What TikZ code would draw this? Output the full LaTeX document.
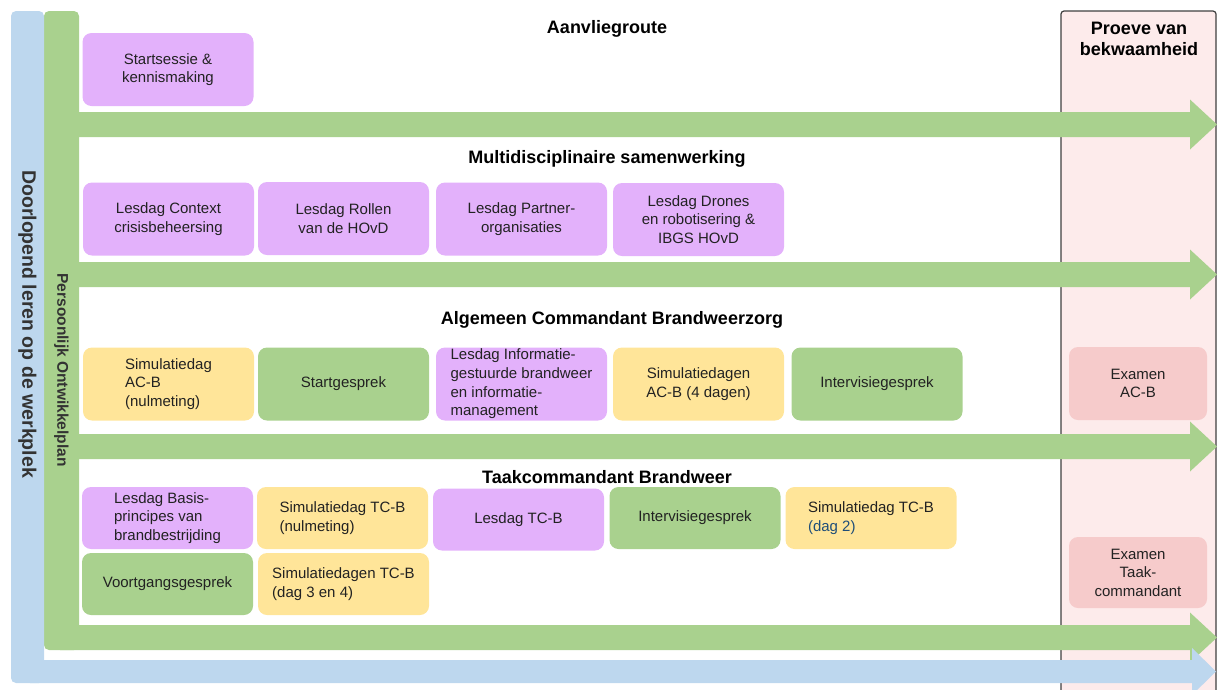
\documentclass[tikz,border=0pt]{standalone}
\usepackage{fontspec}
\setmainfont{Liberation Sans}
\usepackage{tikz}
\usetikzlibrary{positioning,calc}

\definecolor{leerBlauw}{HTML}{BDD7EE}
\definecolor{poGroen}{HTML}{A9D18E}
\definecolor{lesPaars}{HTML}{E3B1FB}
\definecolor{simGeel}{HTML}{FFE599}
\definecolor{examRood}{HTML}{F6CBCB}
\definecolor{proeveRoze}{HTML}{FDEBEB}
\definecolor{tekst}{HTML}{222222}
\definecolor{dagBlauw}{HTML}{1F4E79}

\begin{document}
\begin{tikzpicture}[
  x=1pt,y=-1pt,
  box/.style={rounded corners=9pt,minimum width=171pt,minimum height=73pt,
    inner sep=1pt,text=tekst,align=center,font=\fontsize{15}{18.5}\selectfont},
  les/.style={box,fill=lesPaars},
  sim/.style={box,fill=simGeel},
  gesprek/.style={box,fill=poGroen},
  examen/.style={box,fill=examRood,minimum width=138pt},
  laag/.style={minimum height=62pt},
  kop/.style={font=\fontsize{18}{21}\selectfont\bfseries,align=center},
  zijkop/.style={font=\fontsize{#1}{#1}\selectfont\bfseries,rotate=-90,text=black!80}
  ]
  % Pijl parameters
  \def\kop{1190}
  \def\tip{1217}
  \useasboundingbox (0,0) rectangle (1223,689);
  % Proeve van bekwaamheid
  \draw[fill=proeveRoze,draw=black!75,line width=1.2pt,rounded corners=3pt]
    (1061,11) rectangle (1216,705);
  \node[kop] (proeve) at (1139,38.5) {Proeve van\\bekwaamheid};
  % Persoonlijk ontwikkelplan
  \fill[poGroen,rounded corners=5pt] (44,11) rectangle (79,650);
  \foreach \yc in {124.5,274.5,446.5,637.5}
    \fill[poGroen] (60,\yc-12.5) -- (\kop,\yc-12.5) -- (\kop,\yc-25) -- (\tip,\yc)
      -- (\kop,\yc+25) -- (\kop,\yc+12.5) -- (60,\yc+12.5) -- cycle;
  % Doorlopend leren
  \fill[leerBlauw,rounded corners=5pt] (11,11) rectangle (44,683);
  \fill[leerBlauw] (30,660) -- (1192,660) -- (1192,648) -- (1216,671.5)
    -- (1192,695) -- (1192,683) -- (30,683) -- cycle;
  \node[zijkop=19.5] (werkplek) at (27.5,324) {Doorlopend leren op de werkplek};
  \node[zijkop=15.5] (pop) at (61.5,370) {Persoonlijk Ontwikkelplan};
  % Kopjes
  \node[kop] (aanvlieg) at (607,28.5) {Aanvliegroute};
  \node[kop] (multi) at (607,158.5) {Multidisciplinaire samenwerking};
  \node[kop] (acb) at (612,319.5) {Algemeen Commandant Brandweerzorg};
  \node[kop] (tcb) at (607,477.5) {Taakcommandant Brandweer};
  % Aanvliegroute
  \node[les] (start) at (168,69.5) {Startsessie \&\\kennismaking};
  % Multidisciplinaire samenwerking
  \node[les] (context) at (168.5,219) {Lesdag Context\\crisisbeheersing};
  \node[les] (rollen) at (343.5,218.5) {Lesdag Rollen\\van de HOvD};
  \node[les] (partner) at (521.5,219) {Lesdag Partner-\\organisaties};
  \node[les] (drones) at (698.5,219.5) {Lesdag Drones\\en robotisering \&\\IBGS HOvD};
  % Algemeen Commandant Brandweerzorg
  \node[sim,align=left] (nulAC) at (168.5,384) {Simulatiedag\\AC-B\\(nulmeting)};
  \node[gesprek] (startgesprek) at (343.5,384) {Startgesprek};
  \node[les,align=left,font=\fontsize{15}{18.7}\selectfont] (informatie) at (521.5,384)
    {Lesdag Informatie-\\gestuurde brandweer\\en informatie-\\management};
  \node[sim] (simAC) at (698.5,384) {Simulatiedagen\\AC-B (4 dagen)};
  \node[gesprek] (intervisieAC) at (877,384) {Intervisiegesprek};
  \node[examen] (examenAC) at (1138,383.5) {Examen\\AC-B};
  % Taakcommandant Brandweer
  \node[les,laag,align=left] (basis) at (167.5,518)
    {Lesdag Basis-\\principes van\\brandbestrijding};
  \node[sim,laag,align=left] (nulTC) at (342.5,518) {Simulatiedag TC-B\\(nulmeting)};
  \node[les,laag] (lesTC) at (518.5,519.5) {Lesdag TC-B};
  \node[gesprek,laag] (intervisieTC) at (695,518) {Intervisiegesprek};
  \node[sim,laag,align=left] (dag2) at (871,518)
    {Simulatiedag TC-B\\\textcolor{dagBlauw}{(dag 2)}};
  \node[gesprek,laag] (voortgang) at (167.5,584) {Voortgangsgesprek};
  \node[sim,laag,align=left] (dag34) at (343.5,584) {Simulatiedagen TC-B\\(dag 3 en 4)};
  \node[examen,minimum height=71pt] (examenTC) at (1138,572.5)
    {Examen\\Taak-\\commandant};
\end{tikzpicture}
\end{document}
